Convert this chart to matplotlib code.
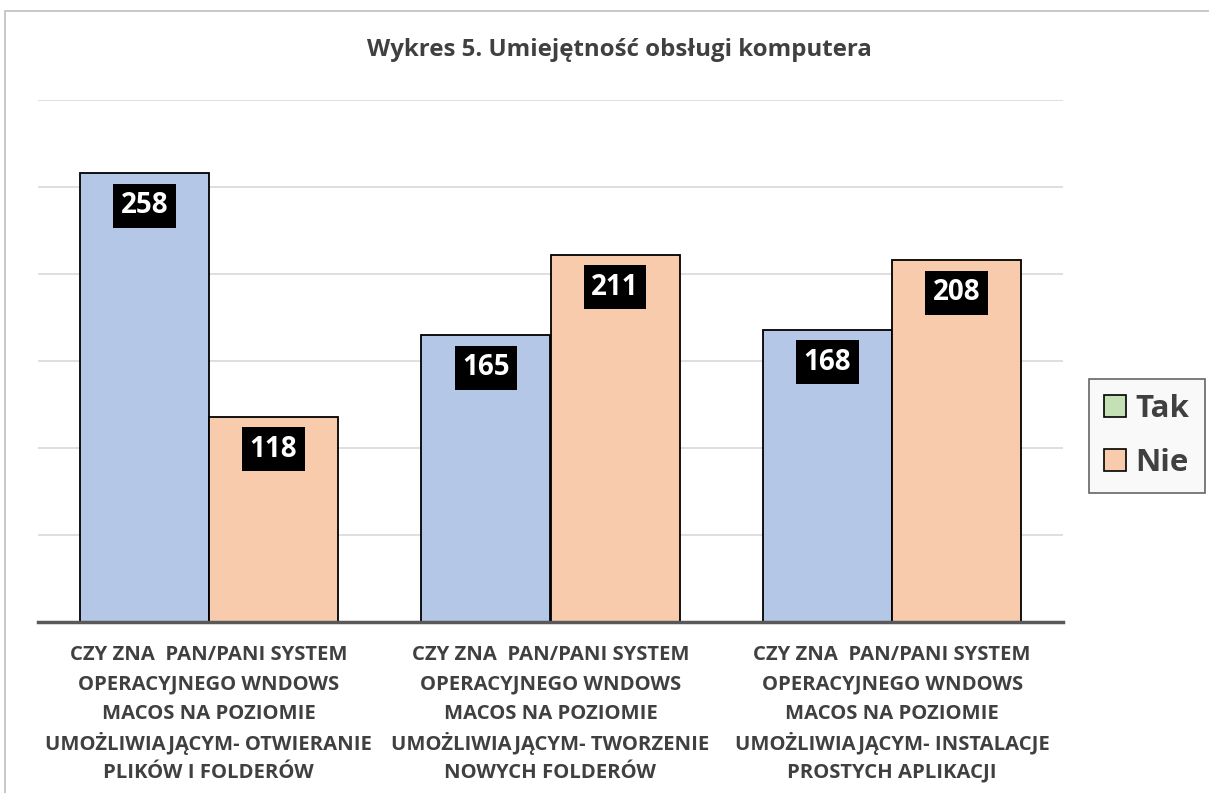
import matplotlib
matplotlib.use("Agg")
import matplotlib.pyplot as plt
from matplotlib.patches import Rectangle, Patch
import numpy as np

categories = [
    "CZY ZNA  PAN/PANI SYSTEM\nOPERACYJNEGO WNDOWS\nMACOS NA POZIOMIE\nUMOŻLIWIAJĄCYM- OTWIERANIE\nPLIKÓW I FOLDERÓW",
    "CZY ZNA  PAN/PANI SYSTEM\nOPERACYJNEGO WNDOWS\nMACOS NA POZIOMIE\nUMOŻLIWIAJĄCYM- TWORZENIE\nNOWYCH FOLDERÓW",
    "CZY ZNA  PAN/PANI SYSTEM\nOPERACYJNEGO WNDOWS\nMACOS NA POZIOMIE\nUMOŻLIWIAJĄCYM- INSTALACJE\nPROSTYCH APLIKACJI",
]
tak = [258, 165, 168]
nie = [118, 211, 208]
series_names = ["Tak", "Nie"]
title = "Wykres 5. Umiejętność obsługi komputera"

plt.rcParams['font.family'] = ['Open Sans', 'DejaVu Sans']

W, H = 1209, 793
fig = plt.figure(figsize=(W / 100, H / 100), dpi=100)
ax = fig.add_axes([38 / W, 1 - 622 / H, (1063 - 38) / W, (622 - 100) / H])

# outer border
fig.patches.append(Rectangle((5 / W, -0.1), 1.2, 1 - 11 / H + 0.1, transform=fig.transFigure,
                             facecolor='none', edgecolor='#bfbfbf', linewidth=1.2, zorder=0))

x = np.arange(len(categories))
bw = 0.378
c_tak = '#b4c7e7'
c_nie = '#f8cbad'
b1 = ax.bar(x - bw / 2, tak, bw, color=c_tak, edgecolor='black', linewidth=1.3, zorder=3)
b2 = ax.bar(x + bw / 2, nie, bw, color=c_nie, edgecolor='black', linewidth=1.3, zorder=3)

ax.set_xlim(-0.5, len(categories) - 0.5)
ax.set_ylim(0, 300)
ax.set_yticks(np.arange(50, 301, 50))
ax.yaxis.grid(True, color='#d9d9d9', linewidth=1.2, zorder=0)
ax.tick_params(axis='y', left=False, labelleft=False)
ax.tick_params(axis='x', bottom=False, labelbottom=False)
for s in ['top', 'right', 'left']:
    ax.spines[s].set_visible(False)
ax.spines['bottom'].set_color('#595959')
ax.spines['bottom'].set_linewidth(2.5)
ax.spines['bottom'].set_zorder(4)

for bars, vals in ((b1, tak), (b2, nie)):
    for rect, v in zip(bars, vals):
        ax.annotate(str(v), (rect.get_x() + rect.get_width() / 2, v),
                    xytext=(0, -23.5), textcoords='offset points',
                    ha='center', va='center', fontsize=20, fontweight='bold', color='white',
                    bbox=dict(boxstyle='square,pad=0.27', facecolor='black', edgecolor='none'),
                    zorder=5)

# category labels: one text per line for even spacing (pixel offsets)
line_px = 29.3
for i, lab in enumerate(categories):
    for j, line in enumerate(lab.split("\n")):
        ax.annotate(line, (i, 0), xytext=(0, -(31 + j * line_px) * 0.72), textcoords='offset points',
                    ha='center', va='center_baseline', fontsize=14.6, fontweight='bold', color='#404040',
                    annotation_clip=False)

fig.text(619 / W, 1 - 50 / H, title, ha='center', va='center', fontsize=17.3,
         fontweight='bold', color='#404040')

handles = [Patch(facecolor='#c5e0b4', edgecolor='black', linewidth=1.2),
           Patch(facecolor=c_nie, edgecolor='black', linewidth=1.2)]
leg = fig.legend(handles, series_names, loc='center', bbox_to_anchor=(1147 / W, 1 - 436 / H),
                 prop={'size': 22.5, 'weight': 'bold'}, frameon=True, fancybox=False,
                 handlelength=0.7, handleheight=0.7, handletextpad=0.3, labelspacing=0.75,
                 borderpad=0.5, borderaxespad=0)
leg.get_frame().set_edgecolor('#404040')
leg.get_frame().set_facecolor('#f8f8f8')
leg.get_frame().set_linewidth(1.2)
for t in leg.get_texts():
    t.set_color('#404040')

fig.savefig('out.png', dpi=100)
